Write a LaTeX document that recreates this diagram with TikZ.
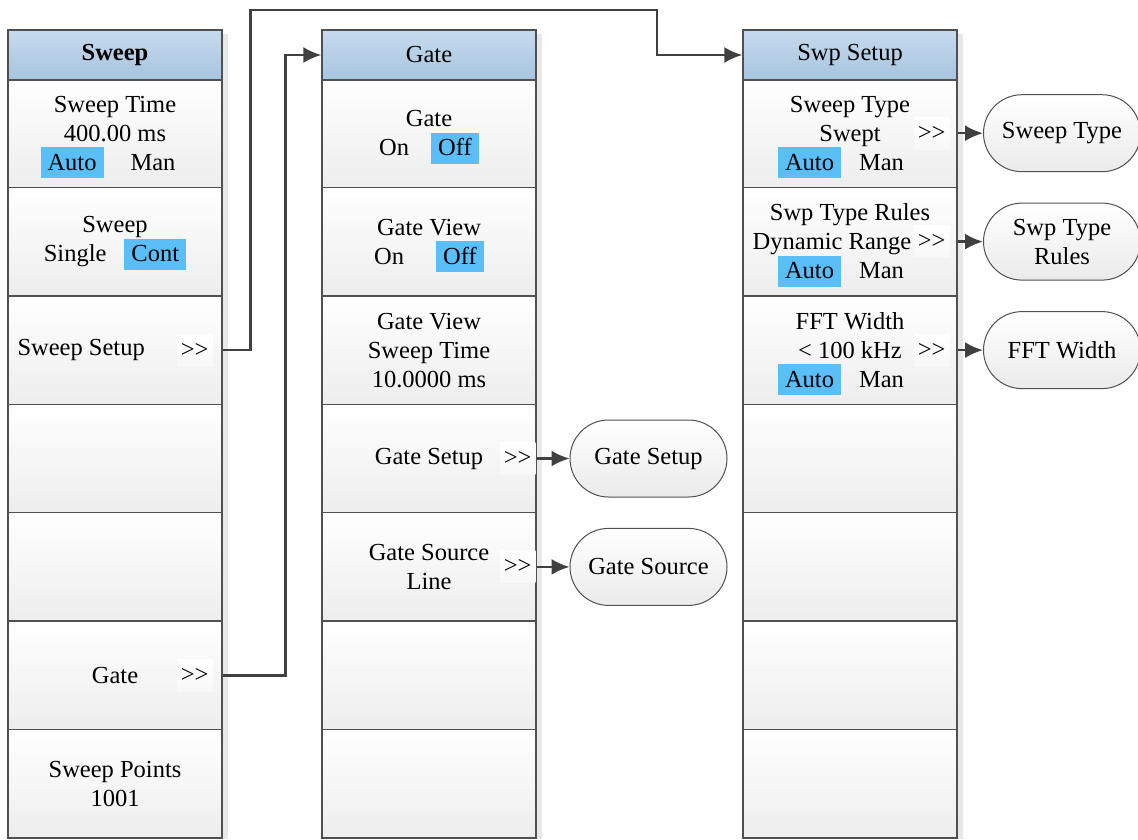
\documentclass[tikz,border=0pt]{standalone}
\usepackage{fontspec}
\setmainfont{Liberation Serif}[Ligatures=TeXOff]
\usetikzlibrary{arrows.meta,positioning,shapes.misc}
\definecolor{hilite}{HTML}{5ABEF9}
\definecolor{hdtop}{HTML}{C6DBED}
\definecolor{hdbot}{HTML}{A7C4DF}
\definecolor{edgec}{HTML}{505050}
\definecolor{linkc}{HTML}{404040}
\newcommand{\hlbox}[1]{\smash{\setlength{\fboxsep}{0pt}\colorbox{hilite}{\rule[-8pt]{0pt}{31pt}\hspace{7pt}#1\hspace{7pt}}}}

\begin{document}
\begin{tikzpicture}[
      x=1pt, y=-1pt,
      font=\fontsize{24.5}{29}\selectfont,
      head/.style={draw=edgec, line width=1.3pt, minimum width=214pt, minimum height=50pt, top color=hdtop, bottom color=hdbot, inner sep=0pt},
      cell/.style={draw=edgec, line width=1.3pt, minimum width=214pt, minimum height=108.43pt, top color=white, bottom color=black!7, align=center, inner sep=0pt},
      go/.style={top color=white, bottom color=black!3, inner xsep=4pt, inner ysep=0pt, minimum height=32pt},
      lbl/.style={inner sep=0pt},
      menu/.style={rounded rectangle, draw=edgec, line width=1pt, minimum width=157pt, minimum height=77pt, top color=white, bottom color=black!8, align=center, inner sep=0pt},
      arr/.style={-{Latex[length=18pt, width=16pt]}, draw=linkc, line width=2.4pt}
  ]
    \useasboundingbox[fill=white] (0,0) rectangle (1138,839);
    % column shadows
    \fill[black!9] (222,34) rectangle (228,839);
    \fill[black!9] (536,34) rectangle (542,839);
    \fill[black!9] (957,34) rectangle (963,839);

    % Sweep column
    \node[cell] (sw1) at (115,133.2) {Sweep Time\\400.00 ms\\\hlbox{Auto}\hspace{27pt}Man\hspace*{14pt}};
    \node[cell] (sw2) at (115,241.6) {Sweep\\Single\hspace{18pt}\hlbox{Cont}};
    \node[cell] (sw3) at (115,350.1) {};
    \node[cell] (sw4) at (115,458.5) {};
    \node[cell] (sw5) at (115,566.9) {};
    \node[cell] (sw6) at (115,675.4) {Gate};
    \node[cell] (sw7) at (115,783.8) {Sweep Points\\1001};
    \node[head] (swhd) at (115,55) {\textbf{Sweep}};
    \node[lbl, right=10pt of sw3.west] (sw3t) {Sweep Setup};
    \node[go, left=10pt of sw3.east] (swgo1) {>\kern0pt>};
    \node[go, left=10pt of sw6.east] (swgo2) {>\kern0pt>};

    % Gate column
    \node[cell] (gt1) at (429,133.2) {Gate\\On\hspace{22pt}\hlbox{Off}};
    \node[cell] (gt2) at (429,241.6) {Gate View\\On\hspace{32pt}\hlbox{Off}};
    \node[cell] (gt3) at (429,350.1) {Gate View\\Sweep Time\\10.0000 ms};
    \node[cell] (gt4) at (429,458.5) {Gate Setup};
    \node[cell] (gt5) at (429,566.9) {Gate Source\\Line};
    \node[cell] (gt6) at (429,675.4) {};
    \node[cell] (gt7) at (429,783.8) {};
    \node[head] (gthd) at (429,55) {Gate};
    \node[go, left=1pt of gt4.east] (gtgo1) {>\kern0pt>};
    \node[go, left=1pt of gt5.east] (gtgo2) {>\kern0pt>};
    \node[menu] (gsetup) at (648.5,458.5) {Gate Setup};
    \node[menu] (gsource) at (648.5,566.9) {Gate Source};

    % Swp Setup column
    \node[cell] (ss1) at (850,133.2) {Sweep Type\\Swept\\\hlbox{Auto}\hspace{18pt}Man\hspace*{18pt}};
    \node[cell] (ss2) at (850,241.6) {Swp Type Rules\\Dynamic Range\makebox[36pt]{}\\\hlbox{Auto}\hspace{18pt}Man\hspace*{18pt}};
    \node[cell] (ss3) at (850,350.1) {FFT Width\\< 100 kHz\\\hlbox{Auto}\hspace{18pt}Man\hspace*{18pt}};
    \node[cell] (ss4) at (850,458.5) {};
    \node[cell] (ss5) at (850,566.9) {};
    \node[cell] (ss6) at (850,675.4) {};
    \node[cell] (ss7) at (850,783.8) {};
    \node[head] (sshd) at (850,55) {Swp Setup};
    \node[go, left=8pt of ss1.east] (ssgo1) {>\kern0pt>};
    \node[go, left=8pt of ss2.east] (ssgo2) {>\kern0pt>};
    \node[go, left=8pt of ss3.east] (ssgo3) {>\kern0pt>};
    \node[menu] (stype) at (1062,133.2) {Sweep Type};
    \node[menu] (srules) at (1062,241.6) {Swp Type\\Rules};
    \node[menu] (sfft) at (1062,350.1) {FFT Width};

    % links
    \coordinate (bendA) at (657,10);
    \draw[arr] (sw3.east) -- ++(28,0) |- (bendA) |- (sshd.west);
    \draw[arr] (sw6.east) -- ++(63,0) |- (gthd.west);
    \draw[arr] (gt4.east) -- (gsetup);
    \draw[arr] (gt5.east) -- (gsource);
    \draw[arr] (ss1.east) -- (stype);
    \draw[arr] (ss2.east) -- (srules);
    \draw[arr] (ss3.east) -- (sfft);
  \end{tikzpicture}
\end{document}
